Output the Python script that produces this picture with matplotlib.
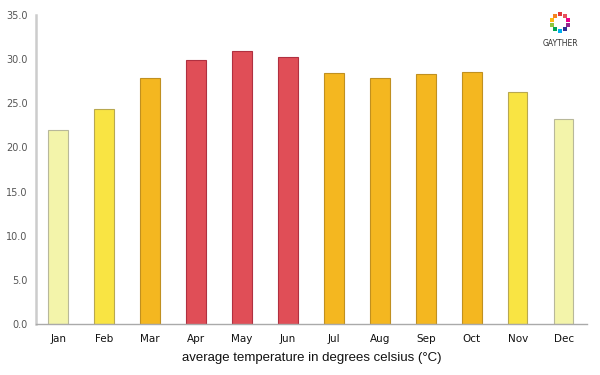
import matplotlib
matplotlib.use("Agg")
import matplotlib.pyplot as plt
import numpy as np

months = ['Jan', 'Feb', 'Mar', 'Apr', 'May', 'Jun', 'Jul', 'Aug', 'Sep', 'Oct', 'Nov', 'Dec']
temps = [22.0, 24.3, 27.9, 29.9, 30.9, 30.2, 28.4, 27.9, 28.3, 28.6, 26.3, 23.2]
colors = ['#F3F4AA', '#F9E443', '#F4B720', '#E04E57', '#E04E57', '#E04E57',
          '#F4B720', '#F4B720', '#F4B720', '#F4B720', '#F9E443', '#F3F4AA']
edges = ['#B8B89A', '#B8A850', '#C09020', '#B03040', '#B03040', '#B03040',
         '#C09020', '#C09020', '#C09020', '#C09020', '#B8A850', '#B8B89A']
yticks = np.arange(0, 36, 5)

fig = plt.figure(figsize=(6, 3.75), dpi=100)
ax = fig.add_axes([0.06, 0.136, 0.918, 0.824])

x = np.arange(len(months))
ax.bar(x, temps, width=0.42, color=colors, edgecolor=edges, linewidth=0.8, zorder=2)

ax.set_xlim(-0.48, 11.5)
ax.set_ylim(0, 35)
ax.set_yticks(yticks)
ax.set_yticklabels(['%.1f' % v for v in yticks], fontsize=7, color='#555555')
ax.set_xticks(x)
ax.set_xticklabels(months, fontsize=7.5, color='#111111', fontweight='medium')
ax.tick_params(axis='both', length=0, pad=6)
ax.tick_params(axis='x', pad=7)

for s in ['top', 'right']:
    ax.spines[s].set_visible(False)
ax.spines['left'].set_color('#cccccc')
ax.spines['left'].set_linewidth(1.8)
ax.spines['bottom'].set_color('#aaaaaa')
ax.spines['bottom'].set_linewidth(1.0)

ax.set_xlabel('average temperature in degrees celsius (\u00b0C)', fontsize=9.5,
              family='Liberation Sans', color='#111111', labelpad=6)

# small logo in top-right corner
logo_colors = ['#E03A3E', '#F58220', '#FDB913', '#8DC63F', '#00A651', '#00AEEF',
               '#2E3192', '#92278F', '#EC008C', '#E8505B']
lax = fig.add_axes([0.905, 0.895, 0.056, 0.09])
lax.set_xlim(-1, 1)
lax.set_ylim(-1, 1)
lax.set_aspect('equal')
lax.axis('off')
ang = np.linspace(0, 2 * np.pi, len(logo_colors), endpoint=False) + np.pi / 2
lax.scatter(0.5 * np.cos(ang), 0.5 * np.sin(ang), s=9, c=logo_colors, marker='s', linewidths=0)
fig.text(0.934, 0.884, 'GAYTHER', fontsize=5.5, ha='center', va='center', color='#333333')

fig.savefig('out.png', dpi=100)
